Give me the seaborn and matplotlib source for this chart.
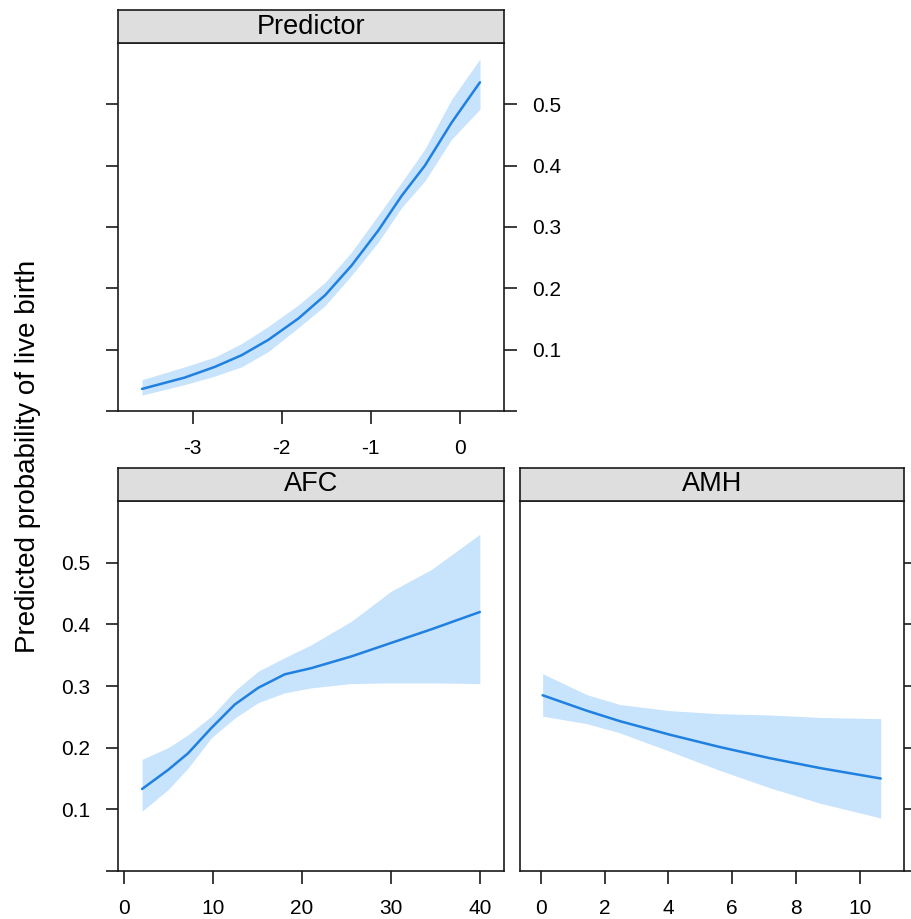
import matplotlib
matplotlib.use("Agg")
import matplotlib.pyplot as plt
import seaborn as sns
import pandas as pd

sns.set_theme(style="white")
plt.rcParams['font.family'] = ['Liberation Sans', 'DejaVu Sans']

# ---- data ----
pred_x     = [-3.57, -3.09, -2.75, -2.45, -2.15, -1.81, -1.51, -1.215, -0.915, -0.65, -0.39, -0.09, 0.23]
pred_fit   = [0.036, 0.0545, 0.072, 0.091, 0.116, 0.151, 0.189, 0.237, 0.294, 0.351, 0.400, 0.470, 0.536]
pred_lower = [0.026, 0.043, 0.057, 0.072, 0.097, 0.136, 0.172, 0.221, 0.275, 0.332, 0.375, 0.443, 0.492]
pred_upper = [0.051, 0.072, 0.088, 0.110, 0.138, 0.173, 0.210, 0.259, 0.319, 0.373, 0.427, 0.508, 0.574]

afc_x     = [2.0, 4.93, 7.18, 9.8, 12.43, 15.06, 18.06, 21.05, 25.55, 30.05, 34.56, 40.0]
afc_fit   = [0.133, 0.164, 0.191, 0.232, 0.270, 0.297, 0.319, 0.329, 0.348, 0.370, 0.392, 0.420]
afc_lower = [0.097, 0.132, 0.167, 0.216, 0.248, 0.273, 0.289, 0.297, 0.304, 0.305, 0.305, 0.304]
afc_upper = [0.181, 0.200, 0.221, 0.251, 0.292, 0.324, 0.346, 0.367, 0.405, 0.454, 0.489, 0.546]

amh_x     = [0.06, 1.44, 2.48, 4.05, 5.62, 7.18, 8.75, 10.66]
amh_fit   = [0.285, 0.260, 0.243, 0.221, 0.201, 0.183, 0.167, 0.150]
amh_lower = [0.251, 0.239, 0.224, 0.194, 0.163, 0.135, 0.110, 0.086]
amh_upper = [0.320, 0.286, 0.270, 0.260, 0.255, 0.253, 0.249, 0.247]

panel_titles = ["Predictor", "AFC", "AMH"]
pred_ticks = [-3, -2, -1, 0]
afc_ticks = [0, 10, 20, 30, 40]
amh_ticks = [0, 2, 4, 6, 8, 10]
y_ticks = [0.0, 0.1, 0.2, 0.3, 0.4, 0.5]
y_ticklabels = ["", "0.1", "0.2", "0.3", "0.4", "0.5"]
ylabel = "Predicted probability of live birth"

LINE = "#1f80e0"
BAND = "#c8e3fc"
STRIP = "#dedede"
EDGE = "#1a1a1a"
TXT = "#000000"

W, H = 911, 919
fig = plt.figure(figsize=(W / 100, H / 100), dpi=100)


def box(l, t, r, b):
    return [l / W, 1 - b / H, (r - l) / W, (b - t) / H]


def make_panel(rect, strip_rect, title, x, fit, lo, hi, xlim, xticks,
               left_ticks, left_labels, right_ticks, right_labels):
    ax = fig.add_axes(box(*rect))
    df = pd.DataFrame({"x": x, "fit": fit, "lo": lo, "hi": hi})
    ax.fill_between(df["x"], df["lo"], df["hi"], color=BAND, linewidth=0, zorder=1)
    sns.lineplot(data=df, x="x", y="fit", ax=ax, color=LINE, linewidth=1.8, zorder=2)
    ax.set_xlim(*xlim)
    ax.set_ylim(0.0, 0.6)
    ax.set_xticks(xticks)
    ax.set_xticklabels([str(t) for t in xticks])
    ax.set_yticks(y_ticks)
    ax.set_yticklabels(y_ticklabels)
    ax.set_xlabel("")
    ax.set_ylabel("")
    for s in ax.spines.values():
        s.set_visible(True)
        s.set_color(EDGE)
        s.set_linewidth(1.2)
    ax.tick_params(axis="x", which="both", direction="out", length=9, width=1.2,
                   color=EDGE, labelsize=15, pad=11, bottom=True, top=False,
                   labelbottom=True, labeltop=False)
    ax.tick_params(axis="y", which="both", direction="out", length=9, width=1.2,
                   color=EDGE, labelsize=15, pad=11,
                   left=left_ticks, labelleft=left_labels,
                   right=right_ticks, labelright=right_labels)
    for lab in ax.get_xticklabels() + ax.get_yticklabels():
        lab.set_color(TXT)
    ax.set_facecolor("white")
    ax.grid(False)

    sax = fig.add_axes(box(*strip_rect))
    sax.set_facecolor(STRIP)
    sax.set_xticks([])
    sax.set_yticks([])
    for s in sax.spines.values():
        s.set_visible(True)
        s.set_color(EDGE)
        s.set_linewidth(1.2)
    sax.text(0.5, 0.5, title, ha="center", va="center", fontsize=19.5,
             color=TXT, transform=sax.transAxes)
    return ax


make_panel((118, 43, 504, 411), (118, 10, 504, 43), panel_titles[0],
           pred_x, pred_fit, pred_lower, pred_upper, (-3.84, 0.50), pred_ticks,
           True, False, True, True)
make_panel((118, 501, 504, 871), (118, 468, 504, 501), panel_titles[1],
           afc_x, afc_fit, afc_lower, afc_upper, (-0.71, 42.72), afc_ticks,
           True, True, False, False)
make_panel((520, 501, 904, 871), (520, 468, 904, 501), panel_titles[2],
           amh_x, amh_fit, amh_lower, amh_upper, (-0.65, 11.39), amh_ticks,
           False, False, True, False)

fig.text(28 / W, 1 - 456 / H, ylabel, rotation=90, ha="center", va="center",
         fontsize=20, color=TXT)

fig.savefig("out.png", dpi=100, facecolor="white")
